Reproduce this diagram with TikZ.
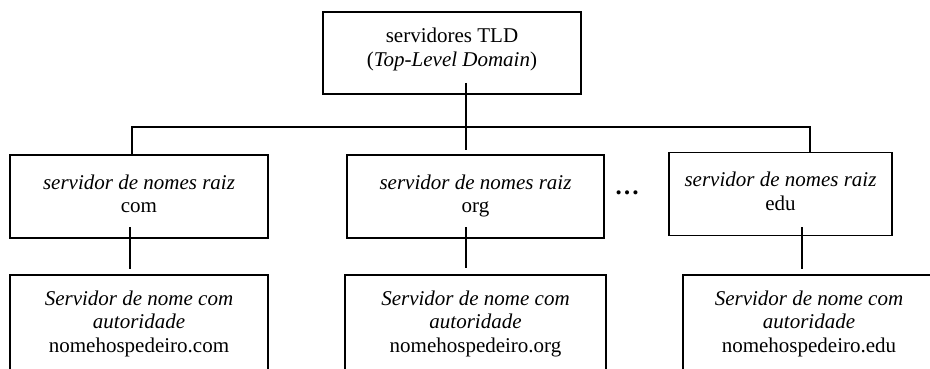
\documentclass[tikz,border=0pt]{standalone}
\usepackage{fontspec}
\setmainfont{Liberation Serif}
\begin{document}
\begin{tikzpicture}[x=1pt,y=-1pt,
  box/.style={draw=black,line width=1.7pt,align=center,inner sep=0pt,
    font=\fontsize{21}{23.5}\selectfont},
  conn/.style={draw=black,line width=1.7pt}]
\clip (0,0) rectangle (930,369);
\useasboundingbox (0,0) rectangle (930,369);
% top
\node[box,minimum width=258pt,minimum height=82pt] (tld) at (452,53)
  {\strut servidores TLD\\(\textit{Top-Level Domain})\rule[-13pt]{0pt}{13pt}};
% middle row
\node[box,minimum width=258pt,minimum height=83pt] (com) at (139,196.5)
  {\strut\textit{servidor de nomes raiz}\\com\strut};
\node[box,minimum width=257pt,minimum height=83pt] (org) at (475.5,196.5)
  {\strut\textit{servidor de nomes raiz}\\org\strut};
\node[box,minimum width=223pt,minimum height=83pt] (edu) at (780.5,194)
  {\strut\textit{servidor de nomes raiz}\\edu\strut};
\node[font=\fontsize{25}{28}\selectfont\bfseries,inner sep=0pt,anchor=base] (dots) at (627,194) {\dots};
% bottom row
\node[box,minimum width=258pt,minimum height=98pt] (comb) at (139,324)
  {\strut\textit{Servidor de nome com}\\\textit{autoridade}\\nomehospedeiro.com\strut};
\node[box,minimum width=261pt,minimum height=98pt] (orgb) at (475.5,324)
  {\strut\textit{Servidor de nome com}\\\textit{autoridade}\\nomehospedeiro.org\strut};
\node[box,minimum width=252pt,minimum height=98pt] (edub) at (809,324)
  {\strut\textit{Servidor de nome com}\\\textit{autoridade}\\nomehospedeiro.edu\strut};
% connectors
\coordinate (t0) at (466,83);
\coordinate (bl) at (132,127);
\coordinate (br) at (810,127);
\coordinate (c1) at (130,227);
\coordinate (o1) at (466,227);
\coordinate (e1) at (802,227);
\draw[conn,shorten >=4pt] (t0) -- (t0 |- org.north);
\draw[conn] (bl |- com.north) -- (bl) -- (br) -- (br |- edu.north);
\draw[conn,shorten >=5pt] (c1) -- (c1 |- comb.north);
\draw[conn,shorten >=6pt] (o1) -- (o1 |- orgb.north);
\draw[conn,shorten >=5pt] (e1) -- (e1 |- edub.north);
\end{tikzpicture}
\end{document}
